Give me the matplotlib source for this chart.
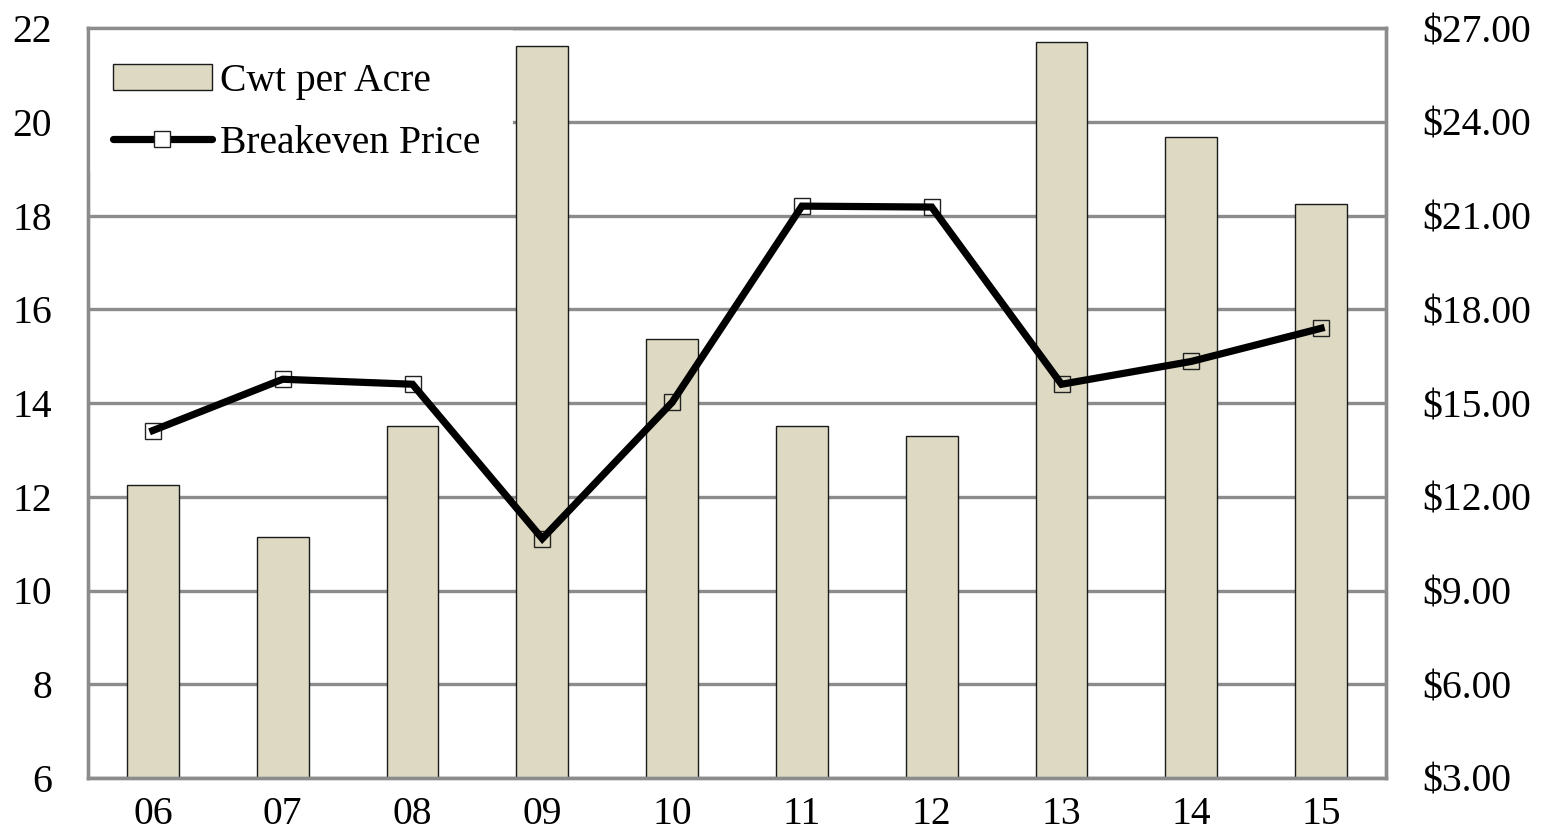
import matplotlib
matplotlib.use("Agg")
import matplotlib.pyplot as plt
from matplotlib.lines import Line2D
from matplotlib.patches import Patch, Rectangle
from matplotlib.ticker import FuncFormatter

categories = ["06", "07", "08", "09", "10", "11", "12", "13", "14", "15"]
cwt_per_acre = [12.26, 11.15, 13.52, 21.62, 15.36, 13.50, 13.29, 21.70, 19.68, 18.24]
breakeven_price = [14.12, 15.76, 15.60, 10.66, 15.02, 21.30, 21.27, 15.60, 16.33, 17.39]
left_ticks = [6, 8, 10, 12, 14, 16, 18, 20, 22]
right_ticks = [3, 6, 9, 12, 15, 18, 21, 24, 27]

plt.rcParams['font.family'] = ['Liberation Serif', 'DejaVu Serif']
FS = 28.5
GRID = '#8c8c8c'
BAR = '#ddd9c3'

fig = plt.figure(figsize=(15.43, 8.33), dpi=100)
ax = fig.add_axes([88/1543, 1 - 778/833, (1386-88)/1543, (778-28)/833])
ax2 = ax.twinx()

x = list(range(len(categories)))
ax.bar(x, cwt_per_acre, width=0.4, color=BAR, edgecolor='#1a1a1a', linewidth=1.0, zorder=2)
ax.set_axisbelow(True)
ax.yaxis.grid(True, color=GRID, linewidth=2.4)
ax.set_ylim(6, 22)
ax.set_yticks(left_ticks)
ax.set_xlim(-0.5, len(categories) - 0.5)
ax.set_xticks(x)
ax.set_xticklabels(categories)

ax2.set_ylim(3, 27)
ax2.set_yticks(right_ticks)
ax2.yaxis.set_major_formatter(FuncFormatter(lambda v, p: f"${v:.2f}"))

# white legend background
ax2.add_patch(Rectangle((0, (778-172)/750), (513-88)/1298, 1 - (778-172)/750,
                        transform=ax2.transAxes, facecolor='white', edgecolor='none', zorder=1))

ax2.plot(x, breakeven_price, linestyle='none', marker='s', markersize=11,
         markerfacecolor='none', markeredgecolor='#222222', markeredgewidth=1.0, zorder=3)
ax2.plot(x, breakeven_price, color='black', linewidth=5.2, solid_joinstyle='miter', zorder=4)

for a in (ax, ax2):
    for s in a.spines.values():
        s.set_color(GRID)
        s.set_linewidth(2.4)
    a.tick_params(length=0, labelsize=FS)
ax.tick_params(axis='y', pad=26)
ax.tick_params(axis='x', pad=13)
ax2.tick_params(axis='y', pad=26)

handles = [Patch(facecolor=BAR, edgecolor='#1a1a1a', linewidth=1.0),
           Line2D([], [], color='black', linewidth=5.2, marker='s', markersize=11,
                  markerfacecolor='white', markeredgecolor='#222222', markeredgewidth=1.0,
                  solid_capstyle='round')]
leg = ax2.legend(handles, ["Cwt per Acre", "Breakeven Price"], loc='upper left',
                 bbox_to_anchor=(25/1298, (778-63)/750), frameon=False, fontsize=FS,
                 borderpad=0, borderaxespad=0, handlelength=2.5, handleheight=0.6,
                 handletextpad=0.2, labelspacing=0.62)
leg.set_zorder(5)

fig.savefig("out.png", dpi=100)
